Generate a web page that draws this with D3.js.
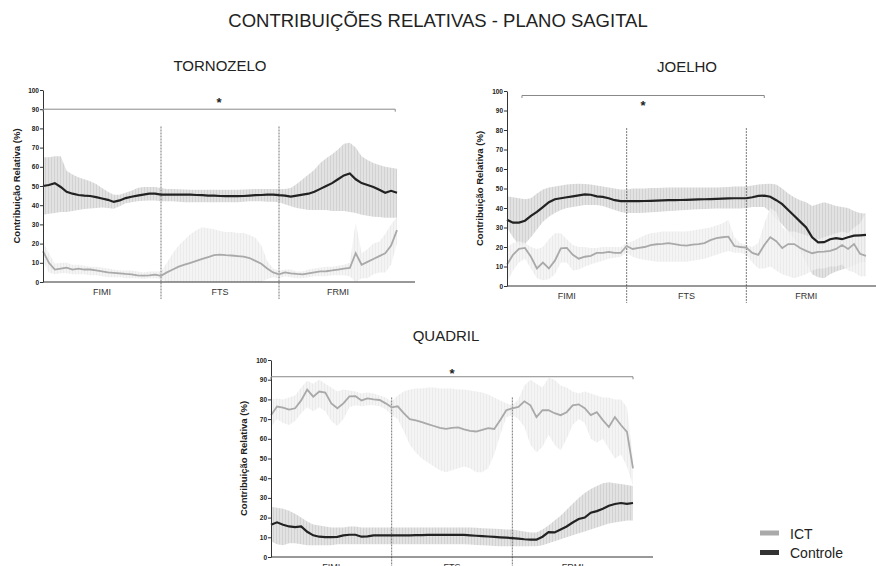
<!DOCTYPE html>
<html>
<head>
<meta charset="utf-8">
<script src="https://cdn.jsdelivr.net/npm/d3@7"></script>
<style>
    body { margin: 0; background: #fff; }
    svg { display: block; font-family: "Liberation Sans", Arial, sans-serif; }
</style>
</head>
<body>
<svg id="chart" width="876" height="566"></svg>
<script>
// Phases of the movement and the sample index where each one ends
const phases = ['FIMI', 'FTS', 'FRMI'];
const phaseBounds = [20, 40];
const yTicks = [0, 10, 20, 30, 40, 50, 60, 70, 80, 90, 100];
const groups = ['ICT', 'Controle'];

// TORNOZELO
const tornozeloCtrlMean = [
    50, 50.5, 51.5, 49.5, 47, 46, 45.3, 45, 44.8, 44.2,
    43.5, 42.8, 41.7, 42.5, 43.7, 44.4, 45, 45.5, 46, 46,
    45.5, 45.5, 45.5, 45.5, 45.5, 45.5, 45.3, 45.2, 45, 45,
    44.8, 44.7, 44.7, 44.7, 44.8, 45, 45.2, 45.3, 45.5, 45.5,
    45.2, 45, 44.5, 45, 45.5, 46, 47, 48.5, 50, 51.5,
    53.5, 55.5, 56.5, 53.5, 51.5, 50.5, 49.5, 48, 46.5, 47.5,
    46.5];
const tornozeloCtrlHigh = [
    65, 65, 65.5, 65.5, 58, 56, 54.5, 53.5, 52.5, 51,
    49, 47, 45.5, 45.5, 46.5, 47.5, 49, 49.5, 49.5, 49.5,
    49, 48.5, 48.5, 48.3, 48.2, 48, 48, 48, 48, 48,
    48, 48, 48, 48, 48.2, 48.3, 48.5, 48.5, 48.5, 48.5,
    48.5, 48.5, 49, 51, 53.5, 56, 58.5, 62, 64.5, 66.5,
    69, 72, 72.5, 70, 65.5, 63.5, 62, 61, 60, 59.5,
    59];
const tornozeloCtrlLow = [
    35, 35.5, 36, 36.5, 36.5, 37, 37.5, 38, 38.3, 38.5,
    38.8, 38.5, 38.2, 39.5, 41, 41.5, 42, 42.3, 42.4, 42.4,
    42, 42, 42, 41.8, 41.6, 41.5, 41.5, 41.5, 41.5, 41.5,
    41.5, 41.5, 41.5, 41.6, 41.8, 42, 42, 42, 41.8, 41.8,
    41.5, 40.5, 39.5, 38.5, 38, 37.5, 37.5, 37.5, 37.5, 37,
    37, 37, 36.5, 36, 35, 34.5, 34, 33.8, 33.5, 33.5,
    33.5];
const tornozeloIctMean = [
    16, 10, 6.5, 7, 7.5, 6.5, 7, 6.5, 6.5, 6,
    5.5, 5, 4.8, 4.5, 4.2, 4, 3.5, 3.3, 3.5, 3.8,
    3.2, 5, 6.5, 8, 9, 10, 11, 12, 13, 14,
    14.3, 14, 13.8, 13.5, 13.2, 12.5, 11, 9.5, 7, 5,
    4, 5, 4.5, 4.2, 4, 4.5, 5, 5.5, 5.6, 6,
    6.5, 7, 7.3, 15, 9, 10.5, 12, 13.5, 15, 19,
    27];
const tornozeloIctHigh = [
    21, 15, 9.5, 10, 10, 9, 9, 8.5, 8, 8,
    7.5, 7, 6.5, 6, 6, 6, 5.5, 5, 5.5, 5.5,
    5.5, 10, 15, 19, 22, 25, 27, 28.5, 28, 27.5,
    26.5, 26, 26, 25.5, 25.5, 24.5, 23, 19, 11, 7,
    6, 6.5, 6.5, 5.5, 5.5, 6.5, 7, 7.5, 8, 8,
    8.5, 9, 10, 31, 15, 17, 20, 21, 25, 30,
    34];
const tornozeloIctLow = [
    11, 5, 4, 4.5, 4.5, 4, 4, 4, 3.5, 3.5,
    3, 2.5, 2.5, 2.5, 2, 2, 2, 1.5, 2, 2,
    1.5, 0, 0, 0, 0, 0, 0, 0, 0, 0,
    0, 0, 0, 0, 0, 0, 0, 0, 1.5, 2.5,
    2, 3, 2.5, 2, 2, 2.5, 3, 3, 3, 3.5,
    3.5, 3.5, 3, 0, 2, 2, 4, 5, 5, 9,
    20];

// JOELHO
const joelhoCtrlMean = [
    34, 32.5, 32.5, 33.5, 36, 38, 40.5, 43, 44.5, 45,
    45.5, 46, 46.5, 47, 46.8, 46, 45.7, 45, 44, 43.5,
    43.5, 43.5, 43.5, 43.6, 43.7, 43.8, 43.9, 44, 44, 44.1,
    44.2, 44.3, 44.4, 44.5, 44.6, 44.7, 44.8, 44.9, 45, 45,
    45, 45.5, 46.2, 46.3, 45.8, 44, 42, 39, 36, 33,
    30, 25, 22.4, 22.5, 24, 24.5, 24, 25, 25.8, 26,
    26.2];
const joelhoCtrlHigh = [
    46, 45.5, 45, 44.5, 45, 47.5, 49.5, 50.5, 51, 51.5,
    52, 52.3, 52.5, 52.3, 52, 51.5, 51, 50.5, 50, 49.5,
    49.5, 50, 50, 50, 50.2, 50.3, 50.4, 50.5, 50.5, 50.5,
    50.5, 50.5, 50.5, 50.5, 50.5, 50.5, 50.7, 50.8, 51, 51,
    51, 51.5, 52, 52.3, 52.5, 52, 50, 47.5, 45.5, 44,
    43, 41, 42, 43, 42, 41, 40.5, 40, 38.5, 37.5,
    37];
const joelhoCtrlLow = [
    30, 25, 21, 21.5, 25, 29, 33, 35.5, 37.5, 39,
    40, 40.5, 41, 41.5, 41.5, 41.5, 41, 40, 39, 38,
    37.5, 37.5, 37.5, 37.6, 37.8, 38, 38.2, 38.4, 38.6, 38.8,
    39, 39.2, 39.4, 39.5, 39.6, 39.7, 39.8, 39.8, 39.8, 39.8,
    40, 40.5, 40.5, 40.5, 38, 34.5, 31.5, 28, 24.5, 18,
    12, 6, 4.5, 4, 6, 7.5, 8.5, 9.5, 10.5, 12,
    12.5];
const joelhoIctMean = [
    11, 16, 19, 19.5, 15, 9, 12, 9, 13, 19.3,
    19.5, 16, 14, 15, 15.5, 17, 17, 17.5, 17, 17,
    20.5, 19, 19.5, 20, 21, 21.4, 21.6, 22, 21.5, 21,
    20.7, 21.2, 21.5, 22, 23.5, 24.5, 25, 25.3, 20.5, 20,
    19.7, 17, 16, 21, 25, 23, 19.5, 21.5, 21.5, 19.5,
    18, 16.8, 17.5, 17.6, 18, 19, 21, 19, 21.5, 16.5,
    15.5];
const joelhoIctHigh = [
    20, 22, 23, 22, 20, 19, 20, 24, 27, 27,
    24, 21, 20, 20, 19.5, 19.5, 20, 20, 20, 20,
    22, 23, 24.5, 26, 27, 27.5, 28, 28, 28, 28,
    28, 28.5, 29, 29.5, 30, 31, 32, 34, 25, 22,
    21, 20, 22, 32, 40, 38, 30, 28, 28, 27,
    26, 25, 24, 25, 26, 27, 28, 27, 30, 32,
    38];
const joelhoIctLow = [
    2, 8, 12, 14, 9, 4, 3, 3.5, 6, 12,
    12, 8, 8.5, 10, 11, 12, 13, 14, 14.5, 15,
    17, 15, 14, 13.5, 13, 12.5, 12.5, 12.5, 12.5, 12.5,
    12.5, 13, 13.5, 14, 15, 16, 17, 18, 17, 17,
    16, 12, 9, 9, 10, 8, 6, 5, 4, 5,
    6, 8, 9, 9, 10, 10, 11, 8, 7, 5,
    5];

// QUADRIL
const quadrilCtrlMean = [
    16.4, 17.6, 16.4, 15.5, 15.2, 15.5, 12.8, 11, 10.3, 10.1,
    10.1, 10.2, 11, 11.3, 11.3, 10.3, 10.5, 11, 11, 11,
    11, 11, 11, 11, 11.1, 11.1, 11.2, 11.2, 11.2, 11.2,
    11.2, 11.2, 11.2, 11, 10.8, 10.6, 10.4, 10.2, 10, 9.8,
    9.6, 9.3, 9, 8.8, 8.8, 10.3, 12.6, 12.5, 14, 15.5,
    17.5, 19.3, 20, 22.5, 23.3, 24.5, 26, 26.9, 27.4, 27,
    27.4];
const quadrilCtrlHigh = [
    25.5, 25, 24.5, 23.5, 22, 20, 18, 16.5, 16, 15.5,
    15, 15, 15, 15.5, 15.5, 15, 15, 15, 15, 15,
    15, 15, 15, 15, 15, 15, 15, 15, 15, 15,
    15, 15, 15, 15, 14.8, 14.6, 14.5, 14.3, 14.2, 14,
    14, 13.5, 13, 12.5, 12.5, 14, 16, 18.5, 21, 24,
    27, 30, 32.5, 34.5, 36, 37.5, 38, 37.5, 37, 36.5,
    36];
const quadrilCtrlLow = [
    8, 6.5, 6, 7, 7, 6.5, 6, 6, 6, 6,
    6, 6.5, 6.5, 6.5, 6.5, 6.5, 6.5, 6.5, 6.5, 6.5,
    6.5, 6.5, 6.5, 6.5, 6.5, 6.5, 6.5, 6.5, 6.5, 6.5,
    6.5, 6.5, 6.5, 6.3, 6.1, 6, 5.8, 5.6, 5.5, 5.5,
    5.5, 5.5, 5.5, 5.5, 5.5, 6, 7, 8, 9, 10,
    11, 12, 13, 14, 15, 16, 17, 17.5, 18, 18.5,
    18.5];
const quadrilIctMean = [
    72, 76.4, 75.8, 74.8, 75.5, 79.5, 85, 81.4, 84, 83.5,
    78, 75.5, 78, 81.5, 81.6, 79.5, 80.5, 80, 79.7, 78,
    76, 76.5, 73, 70, 69.3, 68.5, 67.5, 66.5, 65.5, 65,
    65.5, 65.8, 64.8, 64, 63.7, 64.5, 65.4, 65, 69.5, 74.5,
    75.5, 76.2, 79, 77, 71, 74.5, 74.5, 73, 72, 73.5,
    77, 77.5, 75.5, 72, 73.5, 69.5, 66, 71, 67, 63.5,
    45];
const quadrilIctHigh = [
    80, 80.5, 80, 81, 82, 86, 89.5, 88, 90, 88,
    86, 84, 85, 84.5, 84, 83, 83.5, 83, 82, 81,
    79, 82, 84, 85, 85.5, 85.5, 86, 86, 85.5, 85.5,
    85.5, 85, 85, 84.5, 84, 83.5, 82.5, 81, 79.5, 78,
    77, 80, 87, 90, 88, 86, 91, 90, 87, 86,
    84, 83, 84, 83, 82, 81, 81, 80, 80, 76,
    50];
const quadrilIctLow = [
    66, 70, 68, 67, 69, 73, 76, 74, 76, 74,
    69, 66.5, 70, 76, 77, 76.5, 77, 77, 76.5, 75,
    72, 70, 64, 57, 53, 50, 48, 46, 44, 43,
    44, 45, 46, 45, 43, 43, 45, 52, 62, 71,
    72, 70, 66, 57, 53, 56, 62, 57, 54, 60,
    67, 70, 68, 60, 58, 60, 55, 50, 52, 46,
    36];

// significance bars: [from index, to index, bar level, star level]
const tornozeloSig = [0, 59.7, 90, 95];
const joelhoSig = [2.5, 43, 97.7, 94];
const quadrilSig = [0, 60, 91.5, 94.4];

const panels = [
    { title: 'TORNOZELO', cx: 220, titleY: 71, left: 43, right: 397, axisEnd: 415, top: 90, bottom: 282,
      ctrl: [tornozeloCtrlMean, tornozeloCtrlLow, tornozeloCtrlHigh],
      ict: [tornozeloIctMean, tornozeloIctLow, tornozeloIctHigh], sig: tornozeloSig, yLabelX: 20 },
    { title: 'JOELHO', cx: 687, titleY: 72, left: 507, right: 866, axisEnd: 876, top: 91, bottom: 286,
      ctrl: [joelhoCtrlMean, joelhoCtrlLow, joelhoCtrlHigh],
      ict: [joelhoIctMean, joelhoIctLow, joelhoIctHigh], sig: joelhoSig, yLabelX: 483 },
    { title: 'QUADRIL', cx: 446, titleY: 341, left: 271, right: 633, axisEnd: 653, top: 360, bottom: 557,
      ctrl: [quadrilCtrlMean, quadrilCtrlLow, quadrilCtrlHigh],
      ict: [quadrilIctMean, quadrilIctLow, quadrilIctHigh], sig: quadrilSig, yLabelX: 247 }
];

const svg = d3.select('#chart');
const defs = svg.append('defs');

// vertical hatching, like the error bars of the original
function stripes(id, base, line) {
    const p = defs.append('pattern')
        .attr('id', id)
        .attr('patternUnits', 'userSpaceOnUse')
        .attr('width', 3)
        .attr('height', 6);
    p.append('rect').attr('width', 3).attr('height', 6).attr('fill', base);
    p.append('rect').attr('width', 1).attr('height', 6).attr('fill', line);
}
stripes('hatch-ctrl', '#e2e2e2', '#d2d2d2');
stripes('hatch-ict', '#f2f2f2', '#e7e7e7');

svg.append('text')
    .attr('x', 438)
    .attr('y', 27)
    .attr('text-anchor', 'middle')
    .attr('font-size', 18.5)
    .attr('fill', '#222')
    .text('CONTRIBUIÇÕES RELATIVAS - PLANO SAGITAL');

panels.forEach(p => drawPanel(p));

function drawPanel(p) {
    const n = p.ctrl[0].length - 1;
    const x = d3.scaleLinear().domain([0, n]).range([p.left, p.right]);
    const y = d3.scaleLinear().domain([0, 100]).range([p.bottom, p.top]);
    const g = svg.append('g');

    g.append('text')
        .attr('x', p.cx)
        .attr('y', p.titleY)
        .attr('text-anchor', 'middle')
        .attr('font-size', 15)
        .attr('fill', '#222')
        .text(p.title);

    const area = (lo, hi) => d3.area()
        .x((d, i) => x(i))
        .y0((d, i) => y(lo[i]))
        .y1((d, i) => y(hi[i]));
    const line = d3.line()
        .x((d, i) => x(i))
        .y(d => y(d));

    // bands first
    g.append('path')
        .datum(p.ctrl[0])
        .attr('d', area(p.ctrl[1], p.ctrl[2]))
        .attr('fill', 'url(#hatch-ctrl)');
    g.append('path')
        .datum(p.ict[0])
        .attr('d', area(p.ict[1], p.ict[2]))
        .attr('fill', 'url(#hatch-ict)')
        .attr('opacity', 0.85);

    // phase dividers
    phaseBounds.forEach(b => {
        g.append('line')
            .attr('x1', x(b)).attr('x2', x(b))
            .attr('y1', y(81)).attr('y2', p.bottom + 17)
            .attr('stroke', '#555')
            .attr('stroke-width', 0.8)
            .attr('stroke-dasharray', '2,1');
    });

    g.append('path')
        .datum(p.ict[0])
        .attr('d', line)
        .attr('fill', 'none')
        .attr('stroke', '#a9a9a9')
        .attr('stroke-width', 1.8);
    g.append('path')
        .datum(p.ctrl[0])
        .attr('d', line)
        .attr('fill', 'none')
        .attr('stroke', '#222')
        .attr('stroke-width', 2.2);

    // axes
    const yAxis = g.append('g')
        .attr('transform', `translate(${p.left},0)`)
        .call(d3.axisLeft(y).tickValues(yTicks).tickSize(3).tickSizeOuter(0).tickPadding(1));
    yAxis.select('.domain').attr('stroke', '#333');
    yAxis.selectAll('.tick line').attr('stroke', '#333');
    yAxis.selectAll('.tick text')
        .attr('font-size', 6.5)
        .attr('font-weight', 'bold')
        .attr('font-family', '"Liberation Sans", Arial, sans-serif')
        .attr('fill', '#222');

    g.append('line')
        .attr('x1', p.left).attr('x2', p.axisEnd)
        .attr('y1', p.bottom).attr('y2', p.bottom)
        .attr('stroke', '#333');

    g.append('text')
        .attr('transform', `translate(${p.yLabelX},${(p.top + p.bottom) / 2}) rotate(-90)`)
        .attr('text-anchor', 'middle')
        .attr('font-size', 9.5)
        .attr('font-weight', 'bold')
        .attr('fill', '#222')
        .text('Contribuição Relativa (%)');

    phases.forEach((name, k) => {
        const a = k === 0 ? 0 : phaseBounds[k - 1];
        const b = k === phases.length - 1 ? n : phaseBounds[k];
        g.append('text')
            .attr('x', x((a + b) / 2))
            .attr('y', p.bottom + 13)
            .attr('text-anchor', 'middle')
            .attr('font-size', 9)
            .attr('fill', '#333')
            .text(name);
    });

    // significance bar with star
    const [from, to, level, starLevel] = p.sig;
    g.append('path')
        .attr('d', `M${x(from)},${y(level) + 2.5}V${y(level)}H${x(to)}V${y(level) + 2.5}`)
        .attr('fill', 'none')
        .attr('stroke', '#888')
        .attr('stroke-width', 1);
    g.append('text')
        .attr('x', x((from + to) / 2))
        .attr('y', y(starLevel) + 7)
        .attr('text-anchor', 'middle')
        .attr('font-size', 13)
        .attr('font-weight', 'bold')
        .attr('fill', '#222')
        .text('*');
}

// legend
const legendColors = ['#aaa', '#333'];
groups.forEach((name, k) => {
    const ly = 533 + k * 19.5;
    svg.append('rect')
        .attr('x', 760).attr('y', ly - 2.5)
        .attr('width', 19).attr('height', 5)
        .attr('fill', legendColors[k]);
    svg.append('text')
        .attr('x', 790).attr('y', ly + 5.5)
        .attr('font-size', 14)
        .attr('fill', '#222')
        .text(name);
});
</script>
</body>
</html>
